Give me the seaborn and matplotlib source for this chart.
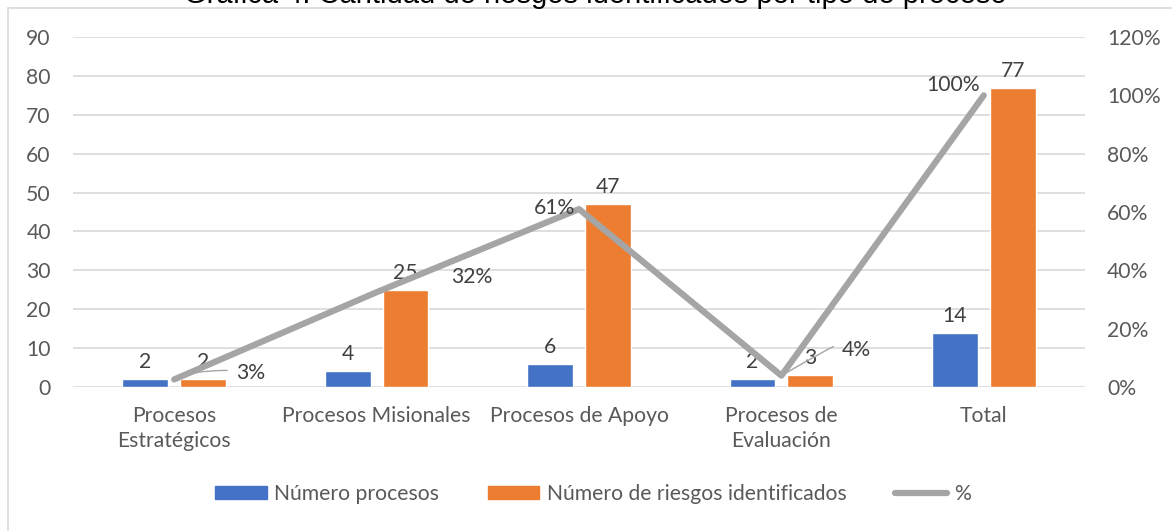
import numpy as np
import pandas as pd
import matplotlib
matplotlib.use('Agg')
import matplotlib.pyplot as plt
from matplotlib.patches import Rectangle, Patch
from matplotlib.lines import Line2D
import seaborn as sns

# Chart data
categorias = ['Procesos\nEstratégicos', 'Procesos Misionales', 'Procesos de Apoyo',
              'Procesos de\nEvaluación', 'Total']
num_procesos = [2, 4, 6, 2, 14]
num_riesgos = [2, 25, 47, 3, 77]
porcentaje = [0.026, 0.325, 0.610, 0.039, 1.00]
pct_labels = ['3%', '32%', '61%', '4%', '100%']
series = ['Número procesos', 'Número de riesgos identificados']

sns.set_theme(style='white')
plt.rcParams['font.family'] = ['Lato', 'DejaVu Sans']

azul = '#4472C4'
naranja = '#ED7D31'
gris = '#A5A5A5'
texto = '#595959'
grid_col = '#D9D9D9'
fs = 15.2

df = pd.DataFrame({
    'categoria': categorias * 2,
    'serie': [series[0]] * 5 + [series[1]] * 5,
    'valor': num_procesos + num_riesgos,
})

fig = plt.figure(figsize=(11.72, 5.31), dpi=100)
ax = fig.add_axes([73 / 1172, 1 - 387 / 531, (1085 - 73) / 1172, 350 / 531])

sns.barplot(data=df, x='categoria', y='valor', hue='serie', order=categorias,
            hue_order=series, palette=[azul, naranja], width=0.573, gap=0.21,
            ax=ax, legend=False, saturation=1)

ax.set_ylim(0, 90)
ax.set_yticks(range(0, 91, 10))
ax.set_xlim(-0.5, 4.5)
ax.yaxis.grid(True, color=grid_col, lw=1.2)
ax.set_axisbelow(True)
for s in ax.spines.values():
    s.set_visible(False)
ax.set_xlabel('')
ax.set_ylabel('')
ax.tick_params(axis='y', length=0, pad=16, labelsize=fs, labelcolor=texto)
ax.tick_params(axis='x', length=0, pad=14, labelsize=fs, labelcolor=texto)
for lbl in ax.get_xticklabels():
    lbl.set_linespacing(1.3)

# bar value labels
for cont in ax.containers:
    ax.bar_label(cont, padding=5, fontsize=fs, color='#404040')

# percentage line on secondary axis
ax2 = ax.twinx()
x_pos = np.arange(len(categorias))
sns.lineplot(x=x_pos, y=porcentaje, ax=ax2, color=gris, lw=4.5, legend=False)
ax2.set_ylim(0, 1.2)
ax2.set_yticks(np.arange(0, 1.21, 0.2))
ax2.set_yticklabels([f'{int(round(v * 100))}%' for v in np.arange(0, 1.21, 0.2)])
ax2.tick_params(axis='y', length=0, pad=16, labelsize=fs, labelcolor=texto)
for s in ax2.spines.values():
    s.set_visible(False)
ax2.set_ylabel('')
ax2.set_xlim(-0.5, 4.5)

# percentage labels (offsets in pixels), with leader lines for small values
offsets = [(76, 6), (95, 15), (-24, 1), (75, 26), (-31, 10)]
for i, (lab, off) in enumerate(zip(pct_labels, offsets)):
    ax2.annotate(lab, (x_pos[i], porcentaje[i]), xytext=off,
                 textcoords='offset pixels', ha='center', va='center',
                 fontsize=fs, color='#404040')
leaders = [(53, 9), (52, 29)]
for i, p1 in zip([0, 3], leaders):
    ax2.annotate('', (x_pos[i], porcentaje[i]), xytext=p1,
                 textcoords='offset pixels',
                 arrowprops=dict(arrowstyle='-', color=gris, lw=1,
                                 shrinkA=0, shrinkB=0,
                                 connectionstyle='angle3,angleA=0,angleB=30'),
                 annotation_clip=False)

# legend
handles = [Patch(color=azul, label=series[0]),
           Patch(color=naranja, label=series[1]),
           Line2D([], [], color=gris, lw=4.5, label='%')]
fig.legend(handles=handles, loc='center', bbox_to_anchor=(593 / 1172, 1 - 494 / 531),
           ncol=3, frameon=False, fontsize=fs, labelcolor=texto,
           handlelength=2.45, handleheight=0.62, handletextpad=0.35,
           columnspacing=2.3)

# chart border (clipped at top like the original)
fig.patches.append(Rectangle((8 / 1172, -0.1), 1.2, 1 - 8 / 531 + 0.1,
                             transform=fig.transFigure, fill=False,
                             edgecolor=grid_col, lw=1.2))

# title, mostly cut off at the top
fig.text(595 / 1172, 1 - 3 / 531, 'Gráfica 4. Cantidad de riesgos identificados por tipo de proceso',
         ha='center', va='baseline', fontsize=21, color='black',
         family=['Liberation Sans', 'DejaVu Sans'])

fig.savefig('out.png', dpi=100)
